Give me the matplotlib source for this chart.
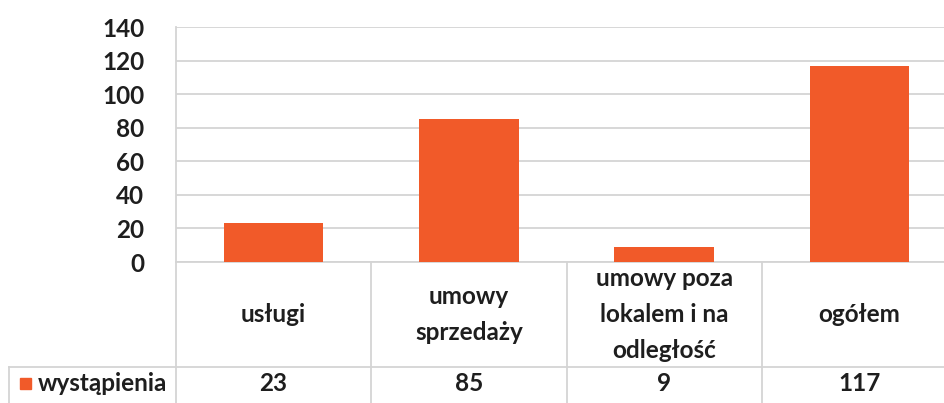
import matplotlib.pyplot as plt
import matplotlib.transforms as mtransforms
from matplotlib.lines import Line2D
from matplotlib.patches import Rectangle

# dane
kategorie = ["usługi", "umowy\nsprzedaży", "umowy poza\nlokalem i na\nodległość", "ogółem"]
wartosci = [23, 85, 9, 117]
seria = "wystąpienia"
y_ticks = [0, 20, 40, 60, 80, 100, 120, 140]

kolor = "#F15A29"
siatka = "#D4D4D4"
tekst = "#1E1E1E"
fs = 17.5
waga = 'bold'

plt.rcParams['font.family'] = ['Lato', 'DejaVu Sans']

W, H = 944, 403
fig = plt.figure(figsize=(W / 100, H / 100), dpi=100)

# obszar wykresu w pikselach
x0, x1 = 176, 957
y_top, y_zero = 27, 262
ax = fig.add_axes([x0 / W, 1 - y_zero / H, (x1 - x0) / W, (y_zero - y_top) / H])

n = len(kategorie)
xs = list(range(n))
ax.bar(xs, wartosci, width=0.51, color=kolor, zorder=3)

ax.set_xlim(-0.5, n - 0.5)
ax.set_ylim(0, 140)
ax.set_yticks(y_ticks)
ax.set_yticklabels([str(v) for v in y_ticks], fontsize=fs, color=tekst, fontweight=waga)
ax.tick_params(axis='y', length=0, pad=23)
ax.set_xticks([])
ax.grid(axis='y', color=siatka, linewidth=1.3, zorder=0)
for s in ['top', 'right']:
    ax.spines[s].set_visible(False)
for s in ['left', 'bottom']:
    ax.spines[s].set_color(siatka)
    ax.spines[s].set_linewidth(1.3)

# tabela danych pod wykresem (współrzędne: x w danych, y w ułamku osi)
trans = mtransforms.blended_transform_factory(ax.transData, ax.transAxes)
px = 1 / ((x1 - x0) / n)          # jednostka danych na piksel
py = 1 / (y_zero - y_top)         # ułamek osi na piksel
y_row = -(367 - y_zero) * py
y_bot = -(H + 5 - y_zero) * py
x_left = -0.5 - (x0 - 9) * px

lw = dict(color=siatka, linewidth=1.3, clip_on=False, transform=trans)
for i in range(n + 1):
    ax.add_line(Line2D([i - 0.5, i - 0.5], [0, y_bot], **lw))
ax.add_line(Line2D([x_left, n - 0.5], [y_row, y_row], **lw))
ax.add_line(Line2D([x_left, x_left], [y_row, y_bot], **lw))

y_lab = (0 + y_row) / 2
y_val = (y_row + y_bot) / 2 + 4 * py
for i, (k, v) in enumerate(zip(kategorie, wartosci)):
    ax.text(i, y_lab, k, transform=trans, ha='center', va='center',
            fontsize=fs, color=tekst, linespacing=1.7, fontweight=waga)
    ax.text(i, y_val, str(v), transform=trans, ha='center', va='center',
            fontsize=fs, color=tekst, fontweight=waga)

# legenda w wierszu wartości
ax.add_patch(Rectangle((x_left + 11 * px, y_val - 5.5 * py), 11 * px, 11 * py,
                       color=kolor, transform=trans, clip_on=False))
ax.text(x_left + 29 * px, y_val, seria, transform=trans, ha='left', va='center',
        fontsize=fs, color=tekst, fontweight=waga)

fig.savefig("out.png", dpi=100)
